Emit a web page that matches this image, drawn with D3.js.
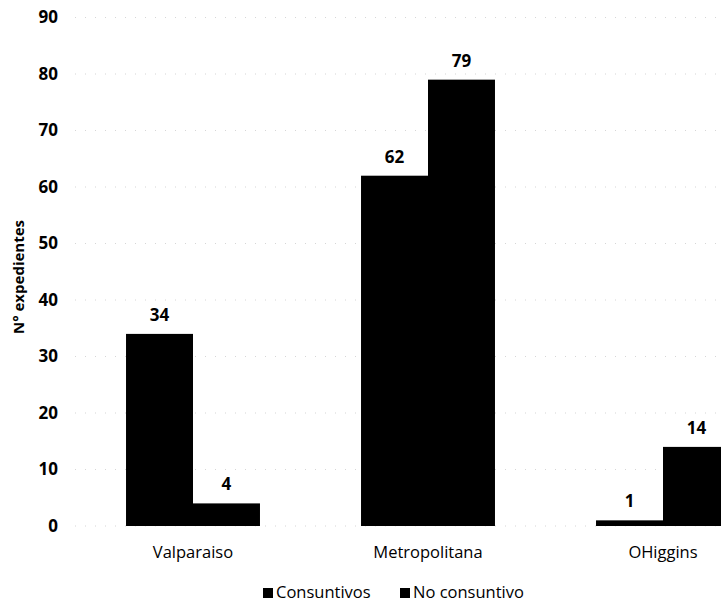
<!DOCTYPE html>
<html>
<head>
<meta charset="utf-8">
<script src="https://cdn.jsdelivr.net/npm/d3@7"></script>
<style>
  body { margin: 0; background: #fff; }
  svg { display: block; }
</style>
</head>
<body>
<div id="chart"></div>
<script>
// chart data
const regiones = ["Valparaiso", "Metropolitana", "OHiggins"];
const series = ["Consuntivos", "No consuntivo"];
const consuntivos = [34, 62, 1];
const noConsuntivo = [4, 79, 14];
const yTicks = [0, 10, 20, 30, 40, 50, 60, 70, 80, 90];

const width = 721;
const height = 606;
const font = "'Open Sans', 'Noto Sans', sans-serif";

const svg = d3
  .select("#chart")
  .append("svg")
  .attr("width", width)
  .attr("height", height);

// the plot runs past the right edge, like the cropped original
const x0 = d3
  .scaleBand()
  .domain(regiones)
  .range([75.5, 780.5])
  .paddingInner(0.43)
  .paddingOuter(0.215);

const x1 = d3
  .scaleBand()
  .domain(series)
  .range([0, x0.bandwidth()]);

const y = d3.scaleLinear().domain([0, 90]).range([526, 17.5]);

// faint gridlines
svg
  .append("g")
  .selectAll("line")
  .data(yTicks)
  .join("line")
  .attr("x1", 75)
  .attr("x2", width)
  .attr("y1", (d) => y(d))
  .attr("y2", (d) => y(d))
  .attr("stroke", "#bbb")
  .attr("stroke-width", 1)
  .attr("stroke-dasharray", "1,9")
  .attr("opacity", 0.6);

// y axis labels
const yAxis = d3.axisLeft(y).tickValues(yTicks).tickSize(0).tickPadding(0);
svg
  .append("g")
  .attr("transform", "translate(58,0)")
  .call(yAxis)
  .call((g) => g.select(".domain").remove())
  .selectAll("text")
  .attr("font-family", font)
  .attr("font-size", "17px")
  .attr("font-weight", "bold")
  .attr("fill", "#000");

svg
  .append("text")
  .attr("transform", "translate(24,277) rotate(-90)")
  .attr("text-anchor", "middle")
  .attr("font-family", font)
  .attr("font-size", "15px")
  .attr("font-weight", "bold")
  .text("N° expedientes");

// bars
const rows = regiones.map((r, i) => ({
  region: r,
  values: [
    { key: series[0], value: consuntivos[i] },
    { key: series[1], value: noConsuntivo[i] },
  ],
}));

const groups = svg
  .append("g")
  .selectAll("g")
  .data(rows)
  .join("g")
  .attr("transform", (d) => `translate(${x0(d.region)},0)`);

groups
  .selectAll("rect")
  .data((d) => d.values)
  .join("rect")
  .attr("x", (d) => x1(d.key))
  .attr("y", (d) => y(d.value))
  .attr("width", x1.bandwidth())
  .attr("height", (d) => y(0) - y(d.value))
  .attr("fill", "#000");

groups
  .selectAll("text")
  .data((d) => d.values)
  .join("text")
  .attr("x", (d) => x1(d.key) + x1.bandwidth() / 2)
  .attr("y", (d) => y(d.value) - 13)
  .attr("text-anchor", "middle")
  .attr("font-family", font)
  .attr("font-size", "17px")
  .attr("font-weight", "bold")
  .text((d) => d.value);

// category labels
svg
  .append("g")
  .selectAll("text")
  .data(regiones)
  .join("text")
  .attr("x", (d) => x0(d) + x0.bandwidth() / 2)
  .attr("y", 558)
  .attr("text-anchor", "middle")
  .attr("font-family", font)
  .attr("font-size", "16.5px")
  .text((d) => d);

// legend
const legendX = [263, 400];
const legend = svg
  .append("g")
  .selectAll("g")
  .data(series)
  .join("g")
  .attr("transform", (d, i) => `translate(${legendX[i]},598)`);

legend
  .append("rect")
  .attr("x", 0)
  .attr("y", -10)
  .attr("width", 10)
  .attr("height", 10)
  .attr("fill", "#000");

legend
  .append("text")
  .attr("x", 13)
  .attr("y", 0)
  .attr("font-family", font)
  .attr("font-size", "16.5px")
  .text((d) => d);
</script>
</body>
</html>
